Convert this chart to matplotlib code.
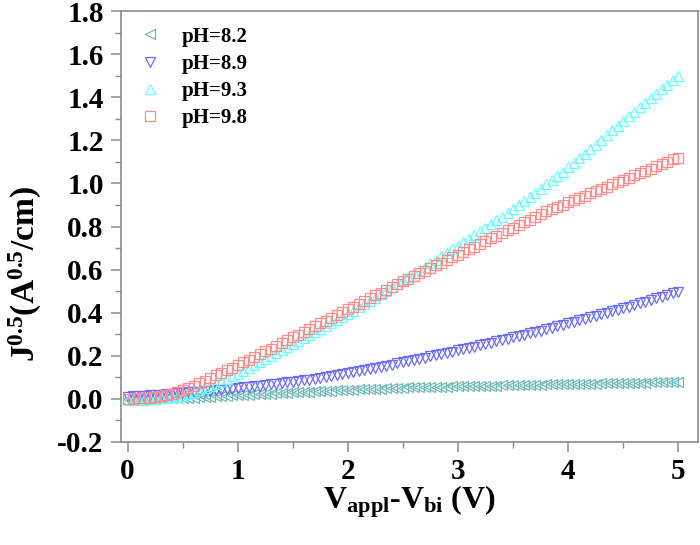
import numpy as np
import matplotlib
matplotlib.use("Agg")
import matplotlib.pyplot as plt
from matplotlib.ticker import MultipleLocator

plt.rcParams['font.family'] = ['Liberation Serif', 'DejaVu Serif']
plt.rcParams['mathtext.fontset'] = 'custom'
plt.rcParams['mathtext.rm'] = 'Liberation Serif:bold'
plt.rcParams['mathtext.bf'] = 'Liberation Serif:bold'
plt.rcParams['mathtext.it'] = 'Liberation Serif:bold'

voltage = np.round(np.arange(101) * 0.05, 2)

ph82 = [0.000, 0.000, 0.000, 0.001, 0.001, 0.001, 0.002, 0.002, 0.003, 0.003, 0.004,
        0.005, 0.006, 0.008, 0.009, 0.010, 0.012, 0.013, 0.015, 0.016, 0.018,
        0.019, 0.020, 0.022, 0.023, 0.024, 0.025, 0.026, 0.028, 0.029, 0.030,
        0.031, 0.032, 0.034, 0.035, 0.036, 0.037, 0.038, 0.040, 0.041, 0.042,
        0.043, 0.044, 0.045, 0.046, 0.047, 0.048, 0.049, 0.050, 0.051, 0.052,
        0.053, 0.053, 0.054, 0.055, 0.055, 0.056, 0.057, 0.057, 0.058, 0.059,
        0.059, 0.060, 0.060, 0.061, 0.061, 0.062, 0.062, 0.063, 0.063, 0.064,
        0.064, 0.065, 0.065, 0.066, 0.066, 0.067, 0.067, 0.068, 0.068, 0.069,
        0.069, 0.070, 0.070, 0.071, 0.071, 0.072, 0.072, 0.073, 0.073, 0.074,
        0.075, 0.075, 0.076, 0.076, 0.077, 0.077, 0.078, 0.079, 0.079, 0.080]

ph89 = [0.010, 0.012, 0.013, 0.015, 0.017, 0.019, 0.020, 0.022, 0.024, 0.026, 0.028,
        0.030, 0.032, 0.034, 0.036, 0.038, 0.041, 0.043, 0.045, 0.048, 0.050,
        0.053, 0.056, 0.058, 0.061, 0.064, 0.067, 0.070, 0.073, 0.077, 0.080,
        0.083, 0.087, 0.090, 0.094, 0.098, 0.102, 0.106, 0.110, 0.114, 0.118,
        0.123, 0.128, 0.133, 0.138, 0.143, 0.148, 0.154, 0.159, 0.165, 0.170,
        0.175, 0.181, 0.186, 0.192, 0.197, 0.203, 0.208, 0.214, 0.219, 0.225,
        0.231, 0.237, 0.243, 0.249, 0.255, 0.261, 0.267, 0.273, 0.279, 0.285,
        0.291, 0.298, 0.304, 0.311, 0.317, 0.324, 0.330, 0.337, 0.343, 0.350,
        0.357, 0.364, 0.371, 0.378, 0.385, 0.392, 0.399, 0.406, 0.413, 0.420,
        0.428, 0.436, 0.444, 0.451, 0.459, 0.467, 0.475, 0.482, 0.490, 0.498]

ph93 = [-0.005, -0.005, -0.004, -0.003, -0.002, 0.000, 0.002, 0.005, 0.008, 0.011, 0.015,
        0.022, 0.030, 0.039, 0.049, 0.060, 0.071, 0.082, 0.093, 0.104, 0.115,
        0.129, 0.143, 0.157, 0.171, 0.185, 0.199, 0.213, 0.227, 0.241, 0.255,
        0.269, 0.283, 0.297, 0.311, 0.325, 0.339, 0.353, 0.367, 0.381, 0.395,
        0.410, 0.425, 0.440, 0.455, 0.470, 0.486, 0.502, 0.518, 0.534, 0.550,
        0.566, 0.582, 0.598, 0.614, 0.630, 0.646, 0.662, 0.678, 0.694, 0.710,
        0.727, 0.744, 0.761, 0.778, 0.795, 0.812, 0.829, 0.846, 0.863, 0.880,
        0.899, 0.918, 0.937, 0.956, 0.975, 0.995, 1.015, 1.035, 1.055, 1.075,
        1.096, 1.117, 1.138, 1.159, 1.180, 1.202, 1.224, 1.246, 1.268, 1.290,
        1.311, 1.332, 1.353, 1.374, 1.395, 1.416, 1.437, 1.458, 1.479, 1.500]

ph98 = [0.000, 0.001, 0.002, 0.004, 0.006, 0.009, 0.013, 0.018, 0.024, 0.031, 0.040,
        0.050, 0.061, 0.073, 0.085, 0.097, 0.109, 0.121, 0.133, 0.145, 0.157,
        0.169, 0.181, 0.194, 0.207, 0.220, 0.233, 0.246, 0.259, 0.272, 0.285,
        0.298, 0.311, 0.324, 0.337, 0.350, 0.363, 0.376, 0.389, 0.402, 0.415,
        0.428, 0.441, 0.454, 0.467, 0.480, 0.493, 0.506, 0.519, 0.532, 0.545,
        0.557, 0.570, 0.582, 0.595, 0.607, 0.620, 0.632, 0.645, 0.657, 0.670,
        0.682, 0.695, 0.707, 0.720, 0.732, 0.745, 0.757, 0.770, 0.782, 0.795,
        0.807, 0.820, 0.832, 0.845, 0.857, 0.870, 0.880, 0.891, 0.901, 0.912,
        0.922, 0.933, 0.943, 0.954, 0.964, 0.975, 0.985, 0.996, 1.006, 1.017,
        1.027, 1.038, 1.048, 1.059, 1.069, 1.080, 1.090, 1.101, 1.111, 1.120]

labels = ['pH=8.2', 'pH=8.9', 'pH=9.3', 'pH=9.8']
series = [ph82, ph89, ph93, ph98]
colors = ['#6fb8b8', '#6a6aff', '#66ffff', '#ff8a8a']
markers = ['<', 'v', '^', 's']

fig = plt.figure(figsize=(7.0, 5.45), dpi=100)
ax = fig.add_axes([121 / 700, 1 - 442 / 545, 577 / 700, 431 / 545])

for y, lab, c, m in zip(series, labels, colors, markers):
    ax.plot(voltage, y, linestyle='none', marker=m, markersize=7,
            markerfacecolor='none', markeredgecolor=c, markeredgewidth=0.9,
            label=lab)

ax.set_xlim(-0.06, 5.18)
ax.set_ylim(-0.2, 1.8)
ax.xaxis.set_major_locator(MultipleLocator(1))
ax.xaxis.set_minor_locator(MultipleLocator(0.5))
ax.yaxis.set_minor_locator(MultipleLocator(0.1))
yt = np.round(np.arange(-0.2, 1.81, 0.2), 1)
ax.set_yticks(yt)
ax.set_yticklabels(['%.1f' % v for v in yt])

for s in ax.spines.values():
    s.set_color('#8a8a8a')
    s.set_linewidth(1.2)
ax.tick_params(which='major', direction='out', length=7.5, width=1.1, color='#8a8a8a',
               labelsize=21, pad=5)
ax.tick_params(which='minor', direction='out', length=4, width=1.0, color='#8a8a8a')
ax.tick_params(axis='x', which='major', pad=4)
for t in ax.get_xticklabels() + ax.get_yticklabels():
    t.set_fontweight('bold')

ax.set_xlabel(r'$\mathbf{V_{appl}}$-$\mathbf{V_{bi}}$ (V)', fontsize=23, fontweight='bold', labelpad=-1)
ax.set_ylabel(r'$\mathbf{J^{0.5}}$$\mathbf{(A^{0.5}}$/cm)', fontsize=24, fontweight='bold')
ax.yaxis.set_label_coords(-0.133, 0.39)

leg = ax.legend(loc='upper left', bbox_to_anchor=(0.0, 1.007), frameon=False,
                prop={'weight': 'bold', 'size': 15, 'family': 'Liberation Serif'},
                handlelength=1.0, handletextpad=1.0, labelspacing=0.34, markerscale=1.0)

fig.savefig('out.png', dpi=100)
